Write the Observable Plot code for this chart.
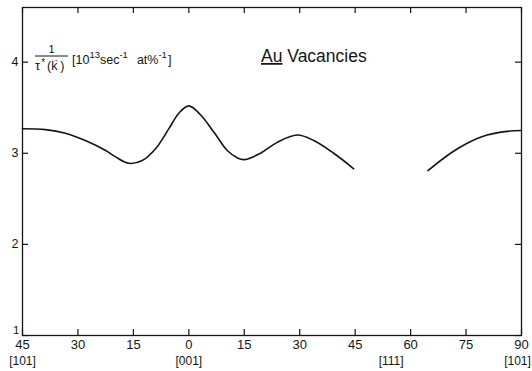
<!DOCTYPE html>
<html><head><meta charset="utf-8">
<script src="https://cdn.jsdelivr.net/npm/d3@7"></script>
<script src="https://cdn.jsdelivr.net/npm/@observablehq/plot@0.6"></script>
<style>body{margin:0;background:#fff} svg{display:block}</style>
</head><body><div id="chart"></div>
<script>
// position along the path: 0 = [101] (45°) ... 45 = [001] (0°) ... 90 = 45° ... 135 = 90° [101]
const xTickPos = [0, 15, 30, 45, 60, 75, 90, 105, 120, 135];
const xTickLabels = ["45", "30", "15", "0", "15", "30", "45", "60", "75", "90"];
const dirPos = [0, 45, 99.74, 135];
const dirLabels = ["[101]", "[001]", "[111]", "[101]"];
const yTicks = [1, 2, 3, 4];

const seg1X = [0, 6.2, 11.6, 17.0, 22.5, 25.2, 28.8, 32.4, 36.0, 39.6, 42.3, 45, 48.2, 51.8, 55.4, 58.1, 59.9, 64.4, 68.9, 74.3, 78.8, 84.2, 89.6];
const seg1Y = [3.27, 3.26, 3.22, 3.14, 3.03, 2.96, 2.89, 2.92, 3.05, 3.27, 3.44, 3.52, 3.42, 3.23, 3.03, 2.95, 2.93, 3.00, 3.12, 3.20, 3.14, 3.00, 2.83];
const seg2X = [109.7, 115.8, 120.3, 125.7, 131.1, 135];
const seg2Y = [2.81, 3.00, 3.11, 3.20, 3.24, 3.25];

const data = [
  ...seg1X.map((x, i) => ({x, y: seg1Y[i], s: 1})),
  ...seg2X.map((x, i) => ({x, y: seg2Y[i], s: 2}))
];

const W = 532, H = 371, mL = 22, mR = 11, mT = 7, mB = 36;
const iw = W - mL - mR, ih = H - mT - mB;
const font = "'Liberation Sans', Arial, sans-serif";
const ink = "#151515";
const lastDir = dirPos.length - 1;

const plot = Plot.plot({
  width: W, height: H,
  marginLeft: mL, marginRight: mR, marginTop: mT, marginBottom: mB,
  style: {fontFamily: font, background: "#fff", color: ink},
  x: {domain: [0, 135]},
  y: {domain: [1, 4.6]},
  marks: [
    Plot.frame({stroke: ink, strokeWidth: 1.3}),
    Plot.tickX(xTickPos, {x: d => d, insetTop: ih - 6, stroke: ink, strokeWidth: 1.2}),
    Plot.tickX(xTickPos, {x: d => d, insetBottom: ih - 6, stroke: ink, strokeWidth: 1.2}),
    Plot.tickY(yTicks, {y: d => d, insetRight: iw - 6, stroke: ink, strokeWidth: 1.2}),
    Plot.tickY(yTicks, {y: d => d, insetLeft: iw - 6, stroke: ink, strokeWidth: 1.2}),
    Plot.axisX(xTickPos, {tickSize: 0, tickPadding: 4, fontSize: 13, label: null,
      tickFormat: d => xTickLabels[xTickPos.indexOf(d)]}),
    Plot.axisX(dirPos.slice(0, lastDir), {tickSize: 0, tickPadding: 21, fontSize: 12, label: null,
      tickFormat: d => dirLabels[dirPos.indexOf(d)]}),
    Plot.axisX(dirPos.slice(lastDir), {tickSize: 0, tickPadding: 21, fontSize: 12, label: null, dx: -4,
      tickFormat: d => dirLabels[dirPos.indexOf(d)]}),
    Plot.axisY(yTicks.slice(1), {tickSize: 0, tickPadding: 4, fontSize: 12.5, label: null, tickFormat: d => String(d)}),
    Plot.axisY(yTicks.slice(0, 1), {tickSize: 0, tickPadding: 3, fontSize: 11.5, label: null, dy: -5, tickFormat: d => String(d)}),
    Plot.line(data, {x: "x", y: "y", z: "s", curve: "catmull-rom", stroke: ink, strokeWidth: 1.6})
  ]
});

const svg = d3.select(plot);
const g = svg.append("g").attr("fill", ink).attr("font-family", font).attr("text-anchor", "start");

// Title
const t = g.append("text").attr("x", 261).attr("y", 62).attr("font-size", 17.5);
t.append("tspan").attr("text-decoration", "underline").text("Au");
t.append("tspan").text("\u00a0Vacancies");

// Y label: 1 / τ*(k→) [10^13 sec^-1 at%^-1]
g.append("text").attr("x", 51.5).attr("y", 53).attr("font-size", 11).attr("text-anchor", "middle").text("1");
g.append("line").attr("x1", 35).attr("x2", 68).attr("y1", 56).attr("y2", 56).attr("stroke", ink).attr("stroke-width", 1);
const den = g.append("text").attr("x", 35).attr("y", 69.5).attr("font-size", 13);
den.append("tspan").text("τ");
den.append("tspan").attr("font-size", 10).attr("dy", -3.5).attr("dx", 1).text("*");
den.append("tspan").attr("font-size", 12.5).attr("dy", 3.5).attr("dx", 2).text("(k");
den.append("tspan").attr("font-size", 7).attr("dy", -7.5).attr("dx", -5.5).text("→");
den.append("tspan").attr("font-size", 12.5).attr("dy", 7.5).attr("dx", 1.4).text(")");

const u = g.append("text").attr("x", 72).attr("y", 63.5).attr("font-size", 12.5);
u.append("tspan").text("[10");
u.append("tspan").attr("font-size", 9.5).attr("dy", -6).text("13");
u.append("tspan").attr("dy", 6).text("sec");
u.append("tspan").attr("font-size", 9.5).attr("dy", -6).text("-1");
u.append("tspan").attr("dy", 6).attr("dx", 9).text("at%");
u.append("tspan").attr("font-size", 9.5).attr("dy", -6).text("-1");
u.append("tspan").attr("dy", 6).attr("dx", 1).text("]");

document.getElementById("chart").appendChild(plot);
</script>
</body></html>
